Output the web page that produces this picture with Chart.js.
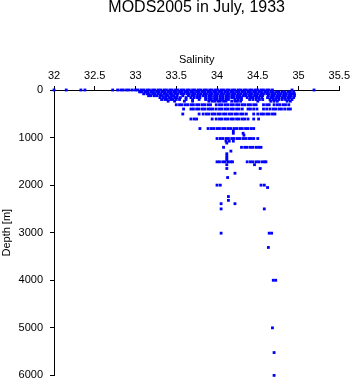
<!DOCTYPE html>
<html>
<head>
<meta charset="utf-8">
<script src="https://cdn.jsdelivr.net/npm/chart.js@4/dist/chart.umd.min.js"></script>
<style>
  html, body { margin: 0; padding: 0; background: #fff; }
  #wrap { width: 353px; height: 384px; }
</style>
</head>
<body>
<div id="wrap"><canvas id="c" width="353" height="384"></canvas></div>
<script>
const chartTitle = "MODS2005 in July, 1933";
const xTitle = "Salinity";
const yTitle = "Depth [m]";
const xTickValues = [32, 32.5, 33, 33.5, 34, 34.5, 35, 35.5];
const xTickLabels = ["32", "32.5", "33", "33.5", "34", "34.5", "35", "35.5"];
const yTickValues = [0, 1000, 2000, 3000, 4000, 5000, 6000];
const yTickLabels = ["0", "1000", "2000", "3000", "4000", "5000", "6000"];

const sal_0 = [32.00, 32.15, 32.33, 32.38, 32.72, 32.78, 32.82, 32.85, 32.89, 32.92, 32.96, 33.00, 33.03, 33.07, 33.10, 33.14, 33.17, 33.21, 33.24, 33.28, 33.31, 33.35, 33.38, 33.42, 33.45, 33.49, 33.52, 33.56, 33.59, 33.63, 33.66, 33.70, 33.73, 33.77, 33.80, 33.84, 33.87, 33.91, 33.94, 33.98, 34.01, 34.05, 34.08, 34.12, 34.15, 34.19, 34.22, 34.26, 34.29, 34.33, 34.36, 34.40, 34.43, 34.47, 34.50, 34.54, 34.57, 34.61, 34.64, 34.68, 34.92, 35.19];
const sal_40 = [33.05, 33.08, 33.12, 33.15, 33.19, 33.22, 33.26, 33.29, 33.33, 33.36, 33.40, 33.43, 33.47, 33.50, 33.54, 33.57, 33.61, 33.64, 33.68, 33.71, 33.75, 33.78, 33.82, 33.85, 33.89, 33.92, 33.96, 33.99, 34.03, 34.06, 34.10, 34.13, 34.17, 34.20, 34.24, 34.27, 34.31, 34.34, 34.38, 34.41, 34.45, 34.48, 34.52, 34.55, 34.59, 34.62, 34.66, 34.69, 34.73, 34.76, 34.80, 34.83, 34.87, 34.90, 34.94];
const sal_80 = [33.10, 33.14, 33.17, 33.21, 33.24, 33.28, 33.31, 33.35, 33.38, 33.42, 33.45, 33.49, 33.52, 33.56, 33.59, 33.63, 33.66, 33.70, 33.73, 33.77, 33.80, 33.84, 33.87, 33.91, 33.94, 33.98, 34.01, 34.05, 34.08, 34.12, 34.15, 34.19, 34.22, 34.26, 34.29, 34.33, 34.36, 34.40, 34.43, 34.47, 34.50, 34.54, 34.57, 34.61, 34.64, 34.68, 34.71, 34.75, 34.78, 34.82, 34.85, 34.89, 34.92, 34.95];
const sal_120 = [33.16, 33.19, 33.23, 33.26, 33.30, 33.33, 33.37, 33.40, 33.44, 33.47, 33.51, 33.58, 33.65, 33.69, 33.72, 33.76, 33.79, 33.83, 33.86, 33.90, 33.93, 33.97, 34.00, 34.04, 34.07, 34.11, 34.14, 34.18, 34.21, 34.25, 34.28, 34.32, 34.35, 34.39, 34.42, 34.46, 34.49, 34.53, 34.56, 34.63, 34.67, 34.70, 34.74, 34.77, 34.81, 34.84, 34.88, 34.91, 34.95];
const sal_160 = [33.30, 33.34, 33.37, 33.41, 33.44, 33.48, 33.51, 33.55, 33.62, 33.68, 33.72, 33.76, 33.79, 33.86, 33.90, 33.93, 33.97, 34.00, 34.04, 34.07, 34.11, 34.14, 34.18, 34.21, 34.25, 34.28, 34.30, 34.37, 34.41, 34.44, 34.48, 34.51, 34.55, 34.62, 34.66, 34.69, 34.73, 34.76, 34.80, 34.83, 34.87, 34.90, 34.94];
const sal_200 = [33.32, 33.36, 33.39, 33.43, 33.46, 33.50, 33.54, 33.62, 33.70, 33.78, 33.86, 33.90, 33.93, 33.97, 34.00, 34.04, 34.07, 34.11, 34.14, 34.22, 34.26, 34.30, 34.40, 34.44, 34.48, 34.52, 34.56, 34.65, 34.69, 34.72, 34.76, 34.80, 34.84, 34.88, 34.92];
const sal_235 = [33.40, 33.48, 33.60, 33.70, 33.90, 33.94, 33.97, 34.01, 34.04, 34.08, 34.11, 34.18, 34.22, 34.25, 34.29, 34.50, 34.66, 34.70, 34.74, 34.86, 34.90];
const sal_310 = [33.50, 33.54, 33.57, 33.61, 33.64, 33.68, 33.71, 33.75, 33.78, 33.82, 33.85, 33.89, 33.92, 33.99, 34.03, 34.06, 34.10, 34.13, 34.17, 34.20, 34.24, 34.27, 34.31, 34.34, 34.38, 34.41, 34.45, 34.48, 34.57, 34.61, 34.64, 34.70, 34.74, 34.77, 34.81, 34.84, 34.88];
const sal_400 = [33.59, 33.68, 33.71, 33.75, 33.78, 33.82, 33.85, 33.89, 33.92, 33.95, 33.99, 34.03, 34.06, 34.10, 34.13, 34.17, 34.20, 34.24, 34.27, 34.31, 34.38, 34.41, 34.45, 34.49, 34.57, 34.61, 34.65, 34.69, 34.72, 34.76, 34.79, 34.83, 34.87, 34.90];
const sal_505 = [33.58, 33.78, 33.83, 33.87, 33.90, 33.94, 33.97, 34.01, 34.04, 34.08, 34.11, 34.15, 34.18, 34.22, 34.25, 34.29, 34.32, 34.36, 34.45, 34.50, 34.54, 34.57, 34.61, 34.64, 34.68, 34.71];
const sal_610 = [33.68, 33.72, 33.75, 33.94, 33.99, 34.03, 34.06, 34.10, 34.13, 34.17, 34.20, 34.24, 34.27, 34.31, 34.34, 34.38, 34.45, 34.51];
const sal_810 = [33.79, 33.89, 33.93, 33.96, 34.00, 34.03, 34.07, 34.10, 34.14, 34.17, 34.21, 34.24, 34.28, 34.31, 34.35, 34.38, 34.42, 34.45];
const sal_860 = [34.20];
const sal_910 = [34.20, 34.32];
const sal_950 = [34.33];
const sal_1020 = [34.00, 34.04, 34.07, 34.11, 34.14, 34.18, 34.21, 34.25, 34.28, 34.32, 34.35, 34.39, 34.42, 34.45, 34.50];
const sal_1075 = [34.11, 34.15, 34.20];
const sal_1115 = [34.12];
const sal_1205 = [34.08, 34.30, 34.34, 34.37, 34.41, 34.44, 34.48, 34.51, 34.54];
const sal_1285 = [34.17];
const sal_1340 = [34.12];
const sal_1385 = [34.12];
const sal_1430 = [34.12];
const sal_1470 = [34.12];
const sal_1510 = [34.00, 34.03, 34.07, 34.10, 34.14, 34.17, 34.19, 34.37, 34.41, 34.44, 34.48, 34.51, 34.55, 34.58, 34.60];
const sal_1570 = [34.12, 34.46];
const sal_1650 = [34.12, 34.53];
const sal_1750 = [34.22];
const sal_1840 = [34.13];
const sal_2000 = [34.00, 34.04, 34.54, 34.58];
const sal_2050 = [34.62];
const sal_2240 = [34.14];
const sal_2320 = [34.14];
const sal_2390 = [34.05, 34.22];
const sal_2500 = [34.05, 34.58];
const sal_3010 = [34.05, 34.64, 34.67];
const sal_3310 = [34.63];
const sal_4000 = [34.69, 34.72];
const sal_5000 = [34.68];
const sal_5520 = [34.70];
const sal_6000 = [34.70];

const depthLevels = [0, 40, 80, 120, 160, 200, 235, 310, 400, 505, 610, 810, 860, 910, 950, 1020, 1075, 1115, 1205, 1285, 1340, 1385, 1430, 1470, 1510, 1570, 1650, 1750, 1840, 2000, 2050, 2240, 2320, 2390, 2500, 3010, 3310, 4000, 5000, 5520, 6000];
const salinityByLevel = [sal_0, sal_40, sal_80, sal_120, sal_160, sal_200, sal_235, sal_310, sal_400, sal_505, sal_610, sal_810, sal_860, sal_910, sal_950, sal_1020, sal_1075, sal_1115, sal_1205, sal_1285, sal_1340, sal_1385, sal_1430, sal_1470, sal_1510, sal_1570, sal_1650, sal_1750, sal_1840, sal_2000, sal_2050, sal_2240, sal_2320, sal_2390, sal_2500, sal_3010, sal_3310, sal_4000, sal_5000, sal_5520, sal_6000];

// ---- Build points ----
const points = [];
depthLevels.forEach((d, i) => {
  salinityByLevel[i].forEach(s => points.push({ x: s, y: d }));
});

const FONT = "'Liberation Sans', Arial, Helvetica, sans-serif";

new Chart(document.getElementById('c'), {
  type: 'scatter',
  data: {
    datasets: [{
      data: points,
      pointStyle: 'rect',
      pointRadius: 2,
      pointHoverRadius: 2,
      borderWidth: 0,
      backgroundColor: '#0000ff',
      borderColor: '#0000ff',
      clip: false
    }]
  },
  options: {
    responsive: false,
    animation: false,
    events: [],
    layout: { padding: { left: 0, right: 13.5, top: 0, bottom: 8.6 } },
    plugins: {
      legend: { display: false },
      tooltip: { enabled: false },
      title: {
        display: true,
        fullSize: false,
        text: chartTitle,
        color: '#000',
        font: { family: FONT, size: 16, weight: 'normal', lineHeight: 0.9 },
        padding: { top: 0, bottom: 20 }
      }
    },
    scales: {
      x: {
        type: 'linear',
        position: 'top',
        min: 32,
        max: 35.5,
        afterBuildTicks: (s) => { s.ticks = xTickValues.map(v => ({ value: v })); },
        afterFit: (s) => { s.height = 90 - 34.4; },
        ticks: {
          color: '#000',
          padding: 3,
          font: { family: FONT, size: 11 },
          callback: (v, i) => xTickLabels[i]
        },
        grid: {
          drawOnChartArea: false,
          drawTicks: true,
          tickLength: 4,
          color: '#000'
        },
        border: { display: true, color: '#000', width: 1 },
        title: {
          display: true,
          text: xTitle,
          color: '#000',
          font: { family: FONT, size: 11 },
          padding: { top: 19.3, bottom: 0 }
        }
      },
      y: {
        type: 'linear',
        position: 'left',
        reverse: true,
        min: 0,
        max: 6000,
        afterBuildTicks: (s) => { s.ticks = yTickValues.map(v => ({ value: v })); },
        afterFit: (s) => { s.width = 54; s.paddingTop = 0; s.paddingBottom = 0; },
        ticks: {
          color: '#000',
          padding: 7,
          font: { family: FONT, size: 11 },
          callback: (v, i) => yTickLabels[i]
        },
        grid: {
          drawOnChartArea: false,
          drawTicks: true,
          tickLength: 4,
          color: '#000'
        },
        border: { display: true, color: '#000', width: 1 },
        title: {
          display: true,
          text: yTitle,
          color: '#000',
          font: { family: FONT, size: 11 },
          padding: { top: 0, bottom: 0 }
        }
      }
    }
  }
});
</script>
</body>
</html>
